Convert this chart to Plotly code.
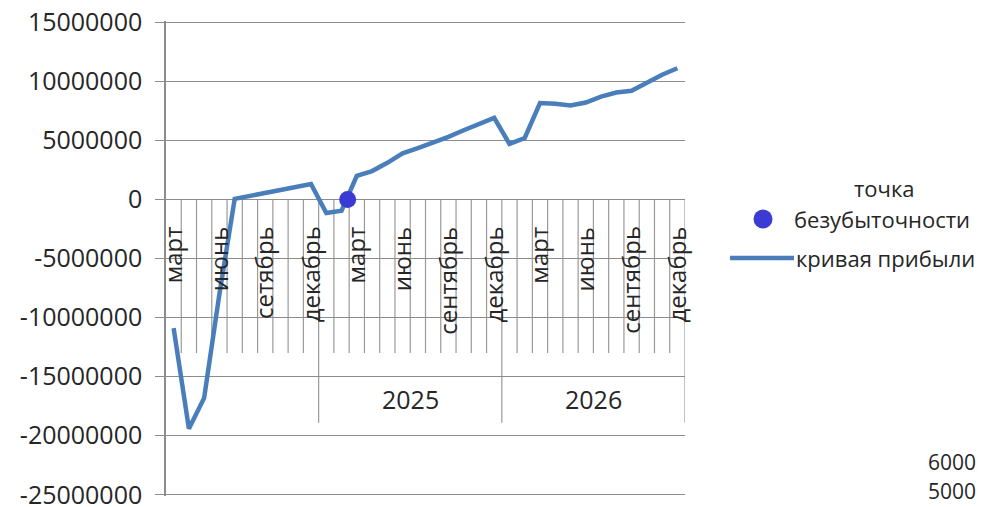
import plotly.graph_objects as go

# ---- data ----
months = (
    ["март", "апрель", "май", "июнь", "июль", "август", "сетябрь", "октябрь", "ноябрь", "декабрь"]
    + ["январь", "февраль", "март", "апрель", "май", "июнь", "июль", "август", "сентябрь", "октябрь", "ноябрь", "декабрь"]
    + ["январь", "февраль", "март", "апрель", "май", "июнь", "июль", "август", "сентябрь", "октябрь", "ноябрь", "декабрь"]
)
years = ["", "2025", "2026"]
year_sizes = [10, 12, 12]
profit = [
    -10.9e6, -19.4e6, -16.8e6, -8.0e6, 0.05e6, 0.3e6, 0.55e6, 0.8e6, 1.05e6, 1.3e6,
    -1.15e6, -0.95e6, 2.0e6, 2.4e6, 3.1e6, 3.9e6, 4.35e6, 4.8e6, 5.3e6, 5.85e6, 6.4e6, 6.9e6,
    4.7e6, 5.2e6, 8.15e6, 8.1e6, 7.95e6, 8.2e6, 8.7e6, 9.05e6, 9.2e6, 9.9e6, 10.55e6, 11.1e6,
]
breakeven_x = [11.4]
breakeven_y = [0]
y_ticks = [15000000, 10000000, 5000000, 0, -5000000, -10000000, -15000000, -20000000, -25000000]
legend_names = ["точка", "безубыточности", "кривая прибыли"]
stray_labels = ["6000", "5000"]

FONT = "Open Sans"
GRID = "#8c8c8c"
TXT = "#262626"
LINE_C = "#4a7ebb"
DOT_C = "#3b3bd4"

Y_MIN, Y_MAX = -25.1e6, 15.1e6

# page offset (default body margin) and figure geometry in window pixels
OFF = 8
W, H = 998 - OFF, 507 - OFF
px_per_unit = (495 - 22) / 40e6
PL, PR = 166, 685
PT = 22 - (Y_MAX - 15e6) * px_per_unit
PB = 495 + (-25e6 - Y_MIN) * px_per_unit
L, R = PL - OFF, W - (PR - OFF)
T, B = PT - OFF, H - (PB - OFF)
pw, ph = W - L - R, H - T - B


def px_x(X):
    return (X - OFF - L) / pw


def px_y(Y):
    return 1 - (Y - OFF - T) / ph


idx = list(range(len(months)))

fig = go.Figure()
fig.add_trace(go.Scatter(
    x=idx, y=profit, mode="lines", name="кривая прибыли", showlegend=False,
    line=dict(color=LINE_C, width=4.5),
))
fig.add_trace(go.Scatter(
    x=breakeven_x, y=breakeven_y, mode="markers", name="точка безубыточности", showlegend=False,
    marker=dict(size=17, color=DOT_C),
))

shapes = []
annotations = []

# category axis tick lines (month level and year level)
tick_bottom = -13.0e6
year_bottom = -18.9e6
bounds = []
acc = 0
for s in year_sizes:
    acc += s
    bounds.append(acc)
for k in range(1, len(months) + 1):
    xb = k - 0.5
    bottom = year_bottom if k in bounds else tick_bottom
    shapes.append(dict(type="line", xref="x", yref="y", x0=xb, x1=xb, y0=0, y1=bottom,
                       line=dict(color="#9a9a9a", width=1.2), layer="below"))

for i, m in enumerate(months):
    if i % 3 == 0:
        annotations.append(dict(x=i, y=-2.1e6, xref="x", yref="y", text=m, textangle=-90,
                                showarrow=False, yanchor="top", xanchor="center", xshift=-1,
                                font=dict(family=FONT, size=24, color=TXT)))
start = 0
for yname, s in zip(years, year_sizes):
    if yname:
        annotations.append(dict(x=start + (s - 1) / 2, y=-16.9e6, xref="x", yref="y", text=yname,
                                showarrow=False, font=dict(family=FONT, size=25, color=TXT)))
    start += s

# legend (drawn by hand to match the long line key)
lf = dict(family=FONT, size=22, color=TXT)
annotations.append(dict(x=px_x(884), y=px_y(188), xref="paper", yref="paper", text=legend_names[0],
                        showarrow=False, xanchor="center", yanchor="middle", font=lf))
annotations.append(dict(x=px_x(882), y=px_y(219), xref="paper", yref="paper", text=legend_names[1],
                        showarrow=False, xanchor="center", yanchor="middle", font=lf))
annotations.append(dict(x=px_x(794), y=px_y(258), xref="paper", yref="paper", text=legend_names[2],
                        showarrow=False, xanchor="left", yanchor="middle", font=lf))
shapes.append(dict(type="circle", xref="paper", yref="paper", xsizemode="pixel", ysizemode="pixel",
                   xanchor=px_x(763), yanchor=px_y(219), x0=-9.5, x1=9.5, y0=-9.5, y1=9.5,
                   fillcolor=DOT_C, line=dict(width=0)))
shapes.append(dict(type="line", xref="paper", yref="paper", x0=px_x(730), x1=px_x(794),
                   y0=px_y(258), y1=px_y(258), line=dict(color=LINE_C, width=4.5)))

# stray labels from a neighbouring chart (bottom right)
for txt, yy in zip(stray_labels, [462, 491]):
    annotations.append(dict(x=px_x(978), y=px_y(yy), xref="paper", yref="paper", text=txt,
                            showarrow=False, xanchor="right", yanchor="middle",
                            font=dict(family=FONT, size=21, color=TXT)))
    shapes.append(dict(type="line", xref="paper", yref="paper", x0=px_x(993), x1=px_x(998),
                       y0=px_y(yy), y1=px_y(yy), line=dict(color="#777", width=1)))

fig.update_layout(
    width=W, height=H,
    margin=dict(l=L, r=R, t=T, b=B, autoexpand=False),
    paper_bgcolor="white", plot_bgcolor="white",
    font=dict(family=FONT, color=TXT),
    showlegend=False,
    xaxis=dict(range=[-0.5, len(months) - 0.5], showgrid=False, zeroline=False,
               showticklabels=False, showline=False, fixedrange=True, automargin=False),
    yaxis=dict(range=[Y_MIN, Y_MAX], tickvals=y_ticks, ticktext=[str(v) for v in y_ticks],
               showgrid=True, gridcolor=GRID, gridwidth=1.3, zeroline=True, zerolinecolor=GRID,
               zerolinewidth=1.3, showline=True, linecolor=GRID, linewidth=1.5,
               ticks="outside", ticklen=9, tickcolor=GRID, tickwidth=1.3,
               tickfont=dict(family=FONT, size=25, color=TXT), ticklabelstandoff=8,
               ticklabeloverflow="allow", fixedrange=True, automargin=False),
    shapes=shapes,
    annotations=annotations,
)

fig.write_html("out.html")
